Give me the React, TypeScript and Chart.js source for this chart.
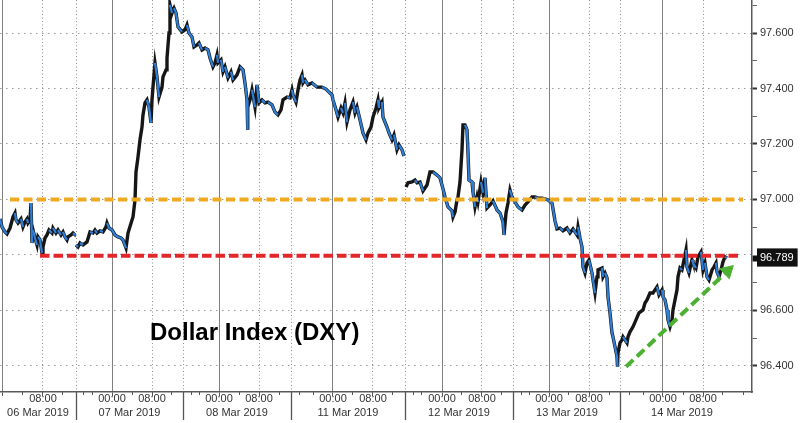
import React, { useEffect, useRef } from 'react';
import { Chart, registerables } from 'chart.js';

Chart.register(...registerables);

// x values: session hours counted from 06 Mar 2019 00:00 (compressed trading time)
const session1Hours = [-0.6, -0.2, 0.4, 0.8, 1.4, 2.0, 2.4, 2.6, 3.0, 3.6, 4.0, 4.4, 4.8, 5.0, 5.4, 5.6, 5.8, 6.0, 6.4, 6.8, 7.0, 7.4, 7.8, 8.0, 8.4, 8.8, 9.2, 9.8, 10.0, 10.6, 11.0, 11.6, 12.0, 12.4, 12.8, 13.0, 13.6, 14.0, 14.2];
const session1Values = [96.930, 96.901, 96.883, 96.876, 96.897, 96.937, 96.951, 96.926, 96.915, 96.930, 96.901, 96.919, 96.930, 96.915, 96.926, 96.987, 96.843, 96.890, 96.861, 96.836, 96.865, 96.854, 96.807, 96.829, 96.861, 96.872, 96.890, 96.879, 96.897, 96.879, 96.890, 96.872, 96.883, 96.865, 96.854, 96.865, 96.872, 96.879, 96.876];

const session2Hours = [14.6, 15.0, 15.4, 16.0, 16.8, 17.4, 18.0, 18.4, 18.8, 19.4, 20.0, 20.6, 20.8, 21.2, 21.8, 22.4, 23.0, 23.6, 24.0, 24.6, 25.0, 25.8, 26.0, 26.4, 26.6, 27.0, 27.4, 27.8, 28.0, 28.4, 28.8, 29.2, 29.6, 29.8, 30.0, 30.4, 30.8, 31.2, 31.8, 32.0, 32.6, 32.8, 33.2, 33.4, 33.8, 34.0, 34.2, 34.6, 35.0, 35.8, 36.4, 36.8, 37.2, 37.8, 38.2, 38.8, 39.2, 39.8, 40.4, 41.0, 41.4, 42.0, 42.4, 42.8, 43.0, 43.6, 44.0, 44.4, 45.0, 45.6, 46.0, 46.8, 47.4, 48.0, 48.4, 48.8, 48.9, 49.0, 49.4, 49.8, 50.4, 50.8, 51.2, 51.8, 52.4, 53.0, 53.8, 54.4, 55.0, 55.6, 56.0, 56.8, 57.4, 57.8, 58.0, 58.6, 59.0, 59.4, 59.8, 60.0, 60.4, 61.0, 61.8, 62.8, 63.8, 64.6, 65.2, 65.8, 66.0, 66.6, 67.0, 67.6, 68.0, 68.4, 68.8, 69.4, 70.0, 70.4, 70.8, 71.4, 72.0, 72.6, 73.0, 73.6, 74.0, 74.6, 75.0, 75.2, 75.8, 76.0, 76.8, 77.2, 77.8, 78.2, 78.8, 79.2, 79.8, 80.2];
const session2Values = [96.836, 96.829, 96.843, 96.836, 96.847, 96.883, 96.879, 96.890, 96.879, 96.887, 96.883, 96.901, 96.915, 96.897, 96.890, 96.872, 96.865, 96.861, 96.854, 96.825, 96.879, 96.926, 96.937, 96.998, 97.099, 97.153, 97.215, 97.261, 97.305, 97.348, 97.359, 97.333, 97.276, 97.359, 97.405, 97.492, 97.442, 97.369, 97.405, 97.442, 97.467, 97.510, 97.600, 97.701, 97.672, 97.683, 97.690, 97.672, 97.622, 97.604, 97.611, 97.629, 97.600, 97.586, 97.550, 97.557, 97.564, 97.539, 97.546, 97.539, 97.510, 97.478, 97.492, 97.521, 97.492, 97.503, 97.460, 97.478, 97.438, 97.460, 97.431, 97.449, 97.478, 97.467, 97.420, 97.359, 97.251, 97.333, 97.359, 97.395, 97.333, 97.413, 97.348, 97.359, 97.348, 97.351, 97.341, 97.315, 97.305, 97.323, 97.359, 97.369, 97.366, 97.395, 97.377, 97.351, 97.395, 97.431, 97.449, 97.420, 97.431, 97.413, 97.420, 97.405, 97.405, 97.398, 97.387, 97.377, 97.359, 97.323, 97.297, 97.330, 97.312, 97.348, 97.279, 97.323, 97.351, 97.312, 97.333, 97.287, 97.240, 97.215, 97.240, 97.261, 97.297, 97.330, 97.359, 97.330, 97.351, 97.297, 97.261, 97.240, 97.215, 97.233, 97.179, 97.197, 97.179, 97.157];

const session3Hours = [80.6, 81.0, 81.8, 82.4, 82.8, 83.4, 84.0, 84.8, 85.4, 86.0, 86.8, 87.4, 88.0, 88.4, 89.0, 89.8, 90.0, 90.4, 90.8, 91.0, 91.4, 91.8, 92.0, 92.4, 92.8, 93.0, 93.2, 93.8, 94.0, 94.4, 94.8, 95.0, 95.6, 96.0, 96.4, 96.8, 97.4, 98.0, 98.8, 99.4, 100.0, 100.2, 100.6, 101.0, 101.4, 101.8, 102.4, 103.0, 103.8, 104.4, 105.0, 105.8, 106.4, 107.0, 107.8, 108.4, 109.0, 109.8, 110.0, 110.4, 110.8, 111.4, 112.0, 112.8, 113.4, 114.0, 114.8, 115.0, 115.4, 115.8, 116.0, 116.4, 116.8, 117.2, 117.8, 118.0, 118.4, 118.8, 119.0, 119.8, 120.0, 120.4, 120.8, 121.0, 121.4, 121.8, 122.0, 122.4, 122.8, 122.9, 123.0, 123.4, 123.8, 124.0, 124.8, 125.0, 125.4, 126.0, 126.6, 127.2, 128.0, 128.4, 128.8, 129.4, 130.0, 130.4, 130.8, 131.2, 131.8, 132.0, 132.4, 132.8, 133.0, 133.4, 133.8, 134.0, 134.4, 134.8, 135.0, 135.4, 135.8, 136.2, 136.6, 136.8, 137.2, 137.8, 138.0, 138.6, 139.0, 139.6, 140.0, 140.4, 140.8, 141.2, 141.8, 142.2, 142.6, 142.8, 143.2, 143.6, 144.0, 144.4, 144.8];
const session3Values = [97.045, 97.060, 97.063, 97.070, 97.060, 97.063, 97.031, 97.052, 97.099, 97.099, 97.088, 97.078, 97.038, 97.009, 96.973, 96.959, 96.937, 96.955, 96.998, 97.009, 97.063, 97.179, 97.269, 97.269, 97.251, 97.168, 97.070, 97.063, 97.027, 96.973, 97.009, 96.991, 97.063, 97.024, 97.078, 96.969, 96.980, 96.995, 96.962, 96.951, 96.919, 96.872, 96.951, 96.987, 97.034, 97.009, 96.991, 96.973, 96.962, 96.980, 96.991, 97.009, 97.009, 97.005, 97.005, 97.002, 96.998, 96.987, 96.966, 96.923, 96.894, 96.897, 96.887, 96.897, 96.879, 96.894, 96.872, 96.901, 96.861, 96.829, 96.757, 96.735, 96.771, 96.782, 96.735, 96.710, 96.663, 96.721, 96.746, 96.753, 96.721, 96.735, 96.717, 96.649, 96.591, 96.519, 96.505, 96.469, 96.433, 96.397, 96.447, 96.483, 96.494, 96.505, 96.483, 96.505, 96.523, 96.541, 96.566, 96.591, 96.602, 96.627, 96.638, 96.663, 96.663, 96.674, 96.685, 96.656, 96.674, 96.649, 96.638, 96.602, 96.566, 96.541, 96.566, 96.602, 96.638, 96.674, 96.721, 96.753, 96.746, 96.782, 96.818, 96.757, 96.735, 96.782, 96.771, 96.753, 96.793, 96.811, 96.746, 96.771, 96.721, 96.710, 96.746, 96.757, 96.771, 96.739, 96.721, 96.746, 96.775, 96.793, 96.789];

// Axis ticks (hours)
const midnightHours = [0, 21.8, 43.2, 66, 87.8, 109.2, 132];
const eightHours = [8, 29.8, 51.2, 74, 95.8, 117.2, 140];
const sessionBreakHours = [14.6, 36, 57.6, 80.4, 102, 123.6];
const dateLabelHours = [7, 25.3, 46.8, 69, 91.2, 112.8, 135.8];
const dateLabels = ['06 Mar 2019', '07 Mar 2019', '08 Mar 2019', '11 Mar 2019', '12 Mar 2019', '13 Mar 2019', '14 Mar 2019'];
const midnightLabel = '00:00';
const eightLabel = '08:00';

const yMajorTicks = [96.4, 96.6, 96.8, 97.0, 97.2, 97.4, 97.6];
const yLabelledTicks = [96.4, 96.6, 97.0, 97.2, 97.4, 97.6];
const yMinorTicks = [96.5, 96.7, 96.9, 97.1, 97.3, 97.5, 97.7];
const lastPrice = 96.789;

// Annotation levels
const resistanceLevel = 97.0;
const resistanceHours = [1.4, 148];
const supportLevel = 96.797;
const supportHours = [7.4, 147.2];
const trendHours = [124.6, 144.9];
const trendValues = [96.397, 96.742];

const chartTitle = 'Dollar Index (DXY)';

const X_MIN = -0.6;
const X_MAX = 149.8;
const Y_MIN = 96.306;
const Y_MAX = 97.719;

const CLEAR = 'rgba(0,0,0,0)';
const FONT = '"Liberation Sans", Arial, sans-serif';

function minorHours(): number[] {
  const out: number[] = [];
  midnightHours.forEach((m, i) => {
    const cands = i > 0 ? [m - 4, m + 4, m + 12, m + 16] : [m + 4, m + 12, m + 16];
    cands.forEach((v) => {
      const r = Math.round(v * 10) / 10;
      if (r > X_MIN && r < X_MAX) out.push(r);
    });
  });
  return out.sort((a, b) => a - b);
}

function xScale(ticks: number[], weight: number, height: number, extra: any) {
  return {
    type: 'linear',
    position: 'bottom',
    min: X_MIN,
    max: X_MAX,
    weight,
    afterBuildTicks: (s: any) => {
      s.ticks = ticks.slice().sort((a, b) => a - b).map((v) => ({ value: v }));
    },
    afterFit: (s: any) => {
      s.height = height;
      s.paddingLeft = 0;
      s.paddingRight = 0;
    },
    ...extra,
  };
}

const noLabels = { autoSkip: false, maxRotation: 0, minRotation: 0, padding: 0, callback: () => '' };

const titlePlugin = {
  id: 'dxyTitle',
  afterDatasetsDraw(chart: any) {
    const { ctx, chartArea } = chart;
    ctx.save();
    ctx.font = 'bold 24px ' + FONT;
    ctx.fillStyle = '#000';
    ctx.textBaseline = 'alphabetic';
    ctx.textAlign = 'left';
    ctx.fillText(chartTitle, chartArea.left + 150, chartArea.top + 340);
    ctx.restore();
  },
};

export default function App() {
  const ref = useRef<HTMLCanvasElement>(null);

  useEffect(() => {
    const canvas = ref.current;
    if (!canvas) return;
    Chart.defaults.font.family = FONT;

    const toPts = (hs: number[], vs: number[]) => hs.map((h, i) => ({ x: h, y: vs[i] }));
    const priceData = [
      ...toPts(session1Hours, session1Values),
      { x: 14.4, y: null },
      ...toPts(session2Hours, session2Values),
      { x: 80.4, y: null },
      ...toPts(session3Hours, session3Values),
    ];

    const blue = '#2f7fd6';
    const green = '#4cb030';

    const tickVal = (c: any) => (c && c.tick ? c.tick.value : NaN);

    const chart = new Chart(canvas, {
      type: 'line',
      data: {
        datasets: [
          {
            data: toPts(trendHours, trendValues),
            xAxisID: 'x',
            borderColor: green,
            borderWidth: 4,
            borderDash: [10, 5],
            pointRadius: (c: any) => (c.dataIndex === trendHours.length - 1 ? 8 : 0),
            pointStyle: 'triangle',
            pointRotation: 47,
            pointBackgroundColor: green,
            pointBorderColor: green,
            pointBorderWidth: 1,
            order: 0,
          },
          {
            data: resistanceHours.map((h) => ({ x: h, y: resistanceLevel })),
            xAxisID: 'x',
            borderColor: '#f0aa22',
            borderWidth: 4,
            borderDash: [9, 4.5],
            pointRadius: 0,
            order: 1,
          },
          {
            data: supportHours.map((h) => ({ x: h, y: supportLevel })),
            xAxisID: 'x',
            borderColor: '#e2262a',
            borderWidth: 4,
            borderDash: [9.5, 4],
            pointRadius: 0,
            order: 2,
          },
          {
            data: priceData,
            xAxisID: 'x',
            borderColor: blue,
            borderWidth: 2.2,
            pointRadius: 0,
            spanGaps: false,
            segment: {
              borderColor: (c: any) => (c.p1.parsed.y < c.p0.parsed.y ? blue : CLEAR),
            },
            order: 10,
          },
          {
            data: priceData,
            xAxisID: 'x',
            borderColor: '#161616',
            borderWidth: 3.4,
            pointRadius: 0,
            spanGaps: false,
            order: 11,
          },
        ],
      },
      options: {
        responsive: false,
        devicePixelRatio: 1,
        animation: false,
        layout: { padding: 0, autoPadding: false },
        plugins: {
          legend: { display: false },
          tooltip: { enabled: false },
        },
        scales: {
          // solid 00:00 grid lines + axis line
          x: xScale(midnightHours, 0, 0, {
            ticks: noLabels,
            grid: { color: '#808080', lineWidth: 1, tickLength: 4, tickColor: '#555', tickWidth: 1 },
            border: { display: true, color: '#5a5a5a', width: 1.5 },
          }),
          // dotted 08:00 and session-break grid lines
          xDot: xScale([...eightHours, ...sessionBreakHours], 1, 0, {
            ticks: noLabels,
            grid: {
              color: '#8f8f8f',
              lineWidth: 1,
              tickLength: 4,
              tickColor: (c: any) => (eightHours.includes(tickVal(c)) ? '#555' : CLEAR),
              tickWidth: 1,
            },
            border: { display: false, dash: [1, 2.5] },
          }),
          // 4-hour minor tick marks
          xMinor: xScale(minorHours(), 2, 0, {
            ticks: noLabels,
            grid: { drawOnChartArea: false, tickLength: 3, tickColor: '#555', tickWidth: 1 },
            border: { display: false },
          }),
          // session separators below the axis
          xSep: xScale(sessionBreakHours, 3, 0, {
            ticks: noLabels,
            grid: { drawOnChartArea: false, tickLength: 28, tickColor: '#555', tickWidth: 1.3 },
            border: { display: false },
          }),
          // time labels
          xTime: xScale([...midnightHours, ...eightHours], 4, 13, {
            ticks: {
              autoSkip: false,
              maxRotation: 0,
              minRotation: 0,
              padding: 0.5,
              font: { size: 11 },
              color: '#333',
              callback: (v: number) =>
                v === midnightHours[0] ? '' : midnightHours.includes(v) ? midnightLabel : eightLabel,
            },
            grid: { display: false, drawTicks: false },
            border: { display: false },
          }),
          // date labels
          xDate: xScale(dateLabelHours, 5, 18, {
            ticks: {
              autoSkip: false,
              maxRotation: 0,
              minRotation: 0,
              padding: 1,
              font: { size: 11 },
              color: '#333',
              callback: (v: number) => {
                const i = dateLabelHours.indexOf(v);
                return i >= 0 ? dateLabels[i] : '';
              },
            },
            grid: { display: false, drawTicks: false },
            border: { display: false },
          }),
          y: {
            type: 'linear',
            position: 'right',
            min: Y_MIN,
            max: Y_MAX,
            afterBuildTicks: (s: any) => {
              s.ticks = [...yMajorTicks, ...yMinorTicks, lastPrice]
                .sort((a, b) => a - b)
                .map((v) => ({ value: v }));
            },
            afterFit: (s: any) => {
              s.width = 48;
              s.paddingTop = 0;
              s.paddingBottom = 0;
            },
            ticks: {
              autoSkip: false,
              padding: 3,
              font: { size: 11 },
              color: (c: any) => (tickVal(c) === lastPrice ? '#fff' : '#333'),
              showLabelBackdrop: (c: any) => tickVal(c) === lastPrice,
              backdropColor: '#111',
              backdropPadding: { top: 3, bottom: 2, left: 3, right: 4 },
              callback: (v: number) =>
                v === lastPrice ? lastPrice.toFixed(3) : yLabelledTicks.includes(v) ? v.toFixed(3) : '',
            },
            grid: {
              color: (c: any) => (yMajorTicks.includes(tickVal(c)) ? '#9a9a9a' : CLEAR),
              lineWidth: 1,
              tickLength: 5,
              tickColor: (c: any) => {
                const v = tickVal(c);
                if (v === lastPrice) return '#111';
                if (v === 96.8) return CLEAR;
                return yMajorTicks.includes(v) ? '#333' : '#666';
              },
              tickWidth: (c: any) => {
                const v = tickVal(c);
                if (v === lastPrice) return 6;
                return yMajorTicks.includes(v) ? 2 : 1;
              },
            },
            border: { display: true, color: '#5a5a5a', width: 1.5, dash: [1.5, 4.5] },
          },
        } as any,
      },
      plugins: [titlePlugin],
    } as any);

    return () => chart.destroy();
  }, []);

  return (
    <div style={{ position: 'fixed', left: 0, top: 0, width: 800, height: 423, background: '#fff' }}>
      <canvas ref={ref} width={800} height={423} />
    </div>
  );
}
